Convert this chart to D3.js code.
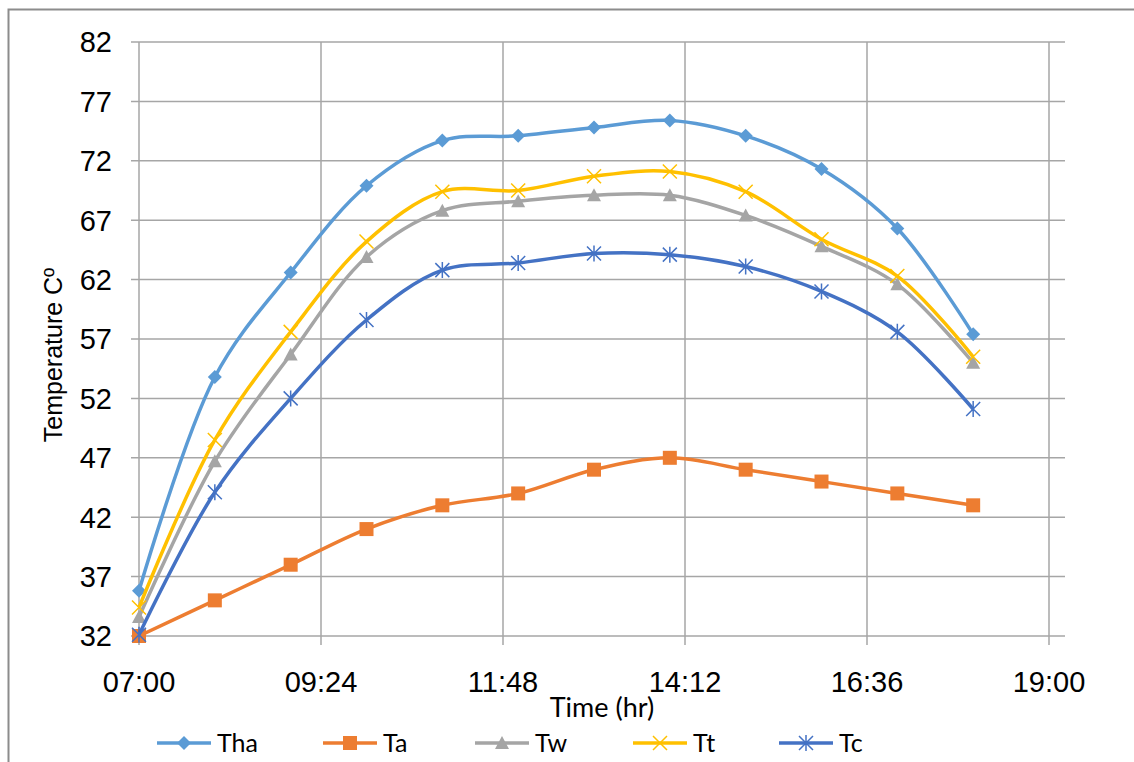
<!DOCTYPE html>
<html><head><meta charset="utf-8">
<script src="https://cdn.jsdelivr.net/npm/d3@7"></script>
<style>body{margin:0;background:#fff}svg{display:block}</style>
</head><body>
<script>
const hours = [7,8,9,10,11,12,13,14,15,16,17,18];
const tha = [35.8,53.8,62.6,69.9,73.7,74.1,74.8,75.4,74.1,71.3,66.3,57.4];
const ta  = [32,35,38,41,43,44,46,47,46,45,44,43];
const tw  = [33.6,46.7,55.7,63.9,67.8,68.6,69.1,69.1,67.4,64.8,61.6,55.0];
const tt  = [34.4,48.5,57.6,65.2,69.4,69.5,70.7,71.1,69.4,65.4,62.3,55.5];
const tc  = [32.1,44.1,52.0,58.6,62.8,63.4,64.2,64.1,63.1,61.0,57.6,51.1];
const seriesNames = ["Tha","Ta","Tw","Tt","Tc"];
const yTicks = [32,37,42,47,52,57,62,67,72,77,82];
const xTickLabels = ["07:00","09:24","11:48","14:12","16:36","19:00"];
const xTickHours = [7,9.4,11.8,14.2,16.6,19];

const series = [
  {name:"Tha", values:tha, color:"#5B9BD5", marker:"diamond"},
  {name:"Ta",  values:ta,  color:"#ED7D31", marker:"square"},
  {name:"Tw",  values:tw,  color:"#A5A5A5", marker:"triangle"},
  {name:"Tt",  values:tt,  color:"#FFC000", marker:"x"},
  {name:"Tc",  values:tc,  color:"#4472C4", marker:"star"}
];

const W=1134,H=762;
const svg=d3.select("body").append("svg").attr("width",W).attr("height",H);
svg.append("rect").attr("x",8.5).attr("y",9.5).attr("width",W+10).attr("height",H+10)
  .attr("fill","#fff").attr("stroke","#8c8c8c").attr("stroke-width",2);

const x=d3.scaleLinear().domain([7,19]).range([139,1049]);
const y=d3.scaleLinear().domain([32,82]).range([636,42]);
const plotRight=1065;
const g=svg.append("g");
g.selectAll(".hg").data(yTicks).join("line")
  .attr("x1",131).attr("x2",plotRight).attr("y1",d=>y(d)).attr("y2",d=>y(d))
  .attr("stroke","#a6a6a6").attr("stroke-width",1.5);
g.selectAll(".vg").data(xTickHours).join("line")
  .attr("x1",d=>x(d)).attr("x2",d=>x(d)).attr("y1",y(82)).attr("y2",645)
  .attr("stroke","#a6a6a6").attr("stroke-width",1.5);

g.selectAll(".yl").data(yTicks).join("text")
  .attr("x",112).attr("y",d=>y(d)).attr("dy","0.36em").attr("text-anchor","end")
  .attr("font-family","Liberation Sans, Arial, sans-serif").attr("font-size",29).attr("fill","#000")
  .text(d=>d);
g.selectAll(".xl").data(xTickHours).join("text")
  .attr("x",d=>x(d)).attr("y",692).attr("text-anchor","middle")
  .attr("font-family","Liberation Sans, Arial, sans-serif").attr("font-size",29).attr("fill","#000")
  .text((d,i)=>xTickLabels[i]);

svg.append("text").attr("x",602).attr("y",717).attr("text-anchor","middle")
  .attr("font-family","Lato, 'Open Sans', sans-serif").attr("font-size",27).text("Time (hr)");
svg.append("text").attr("transform","translate(62,355) rotate(-90)").attr("text-anchor","middle")
  .attr("font-family","Liberation Sans, Arial, sans-serif").attr("font-size",25)
  .text("Temperature Cº");

function drawMarker(sel, type, color, cx, cy){
  if(type==="diamond"){
    sel.append("path").attr("d",`M${cx},${cy-7}L${cx+7},${cy}L${cx},${cy+7}L${cx-7},${cy}Z`).attr("fill",color);
  } else if(type==="square"){
    sel.append("rect").attr("x",cx-7).attr("y",cy-7).attr("width",14).attr("height",14).attr("fill",color);
  } else if(type==="triangle"){
    sel.append("path").attr("d",`M${cx},${cy-7}L${cx+7},${cy+6}L${cx-7},${cy+6}Z`).attr("fill",color);
  } else if(type==="x"){
    sel.append("path").attr("d",`M${cx-7},${cy-7}L${cx+7},${cy+7}M${cx-7},${cy+7}L${cx+7},${cy-7}`)
      .attr("stroke",color).attr("stroke-width",1.5);
  } else if(type==="star"){
    sel.append("path").attr("d",`M${cx-7},${cy-7}L${cx+7},${cy+7}M${cx-7},${cy+7}L${cx+7},${cy-7}M${cx},${cy-8}L${cx},${cy+8}`)
      .attr("stroke",color).attr("stroke-width",1.5);
  }
}

const line=d3.line().x(d=>x(d[0])).y(d=>y(d[1])).curve(d3.curveCatmullRom.alpha(0.5));
series.forEach(s=>{
  const pts=hours.map((h,i)=>[h,s.values[i]]);
  const gs=svg.append("g");
  gs.append("path").attr("d",line(pts)).attr("fill","none").attr("stroke",s.color).attr("stroke-width",3.5);
  pts.forEach(p=>drawMarker(gs,s.marker,s.color,x(p[0]),y(p[1])));
});

const legX=[157,323,475,633,779];
const lg=svg.append("g");
series.forEach((s,i)=>{
  const lx=legX[i], ly=743;
  lg.append("line").attr("x1",lx).attr("x2",lx+54).attr("y1",ly).attr("y2",ly)
    .attr("stroke",s.color).attr("stroke-width",3.5);
  drawMarker(lg,s.marker,s.color,lx+27,ly);
  lg.append("text").attr("x",lx+60).attr("y",ly).attr("dy","0.36em")
    .attr("font-family","Lato, 'Open Sans', sans-serif").attr("font-size",25).text(seriesNames[i]);
});
</script>
</body></html>
